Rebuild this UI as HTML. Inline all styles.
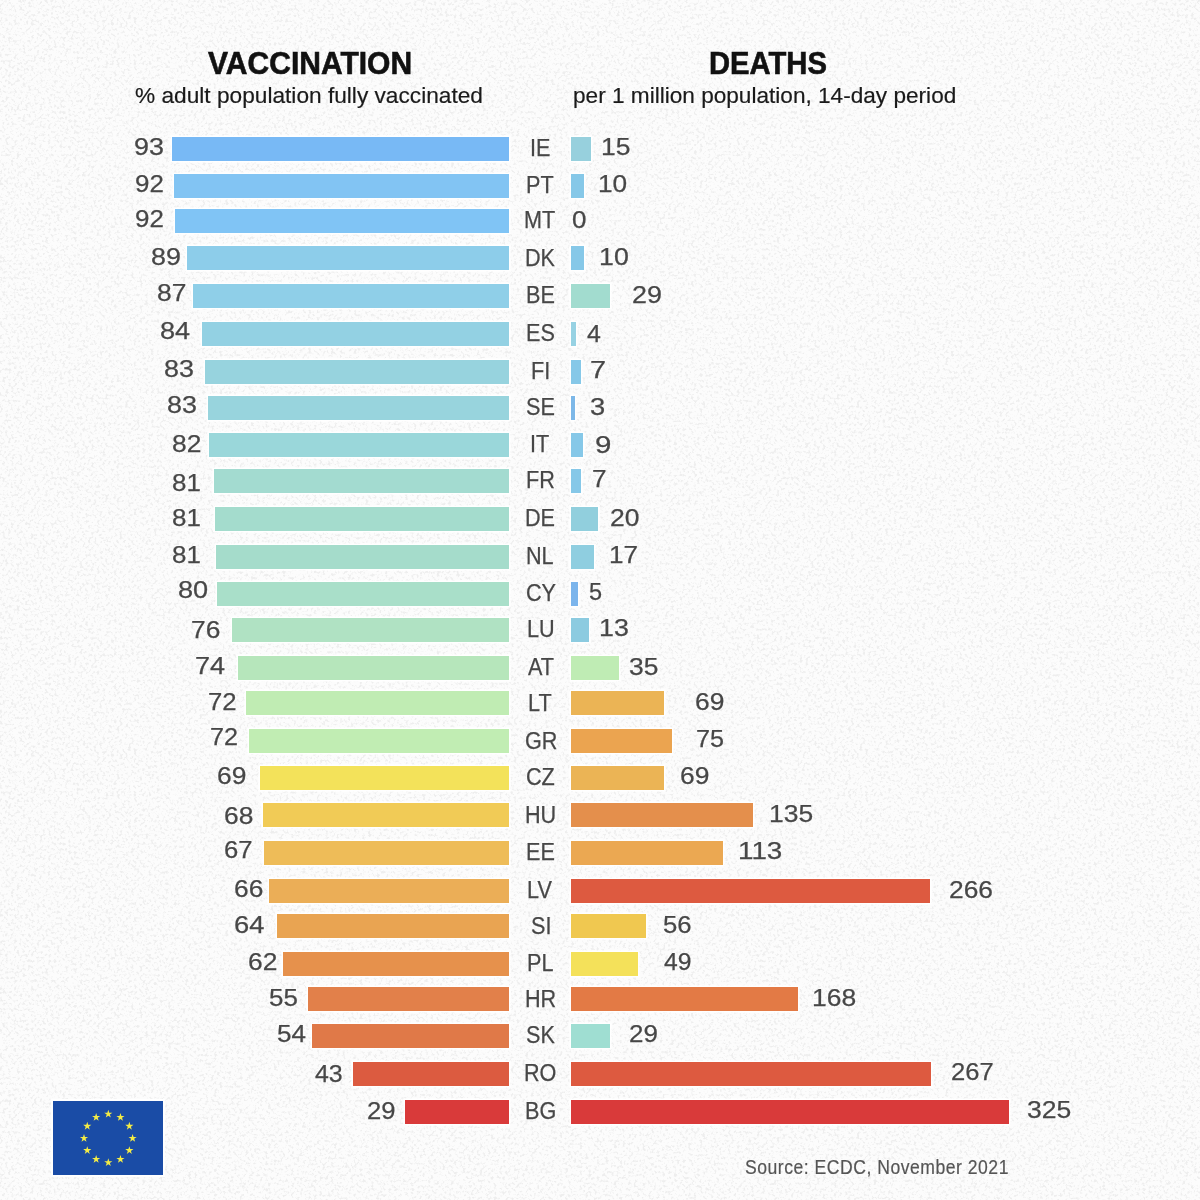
<!DOCTYPE html>
<html><head><meta charset="utf-8"><style>
html,body{margin:0;padding:0}
body{width:1200px;height:1200px;position:relative;overflow:hidden;background:#fcfcfc;font-family:"Liberation Sans",sans-serif}
.b{position:absolute;box-shadow:0 0 0 1.5px #fff}
.t{position:absolute;line-height:1;white-space:nowrap;transform-origin:0 0}
.n{-webkit-text-stroke:0.25px #474747}
.h{-webkit-text-stroke:0.6px #111}
.s{-webkit-text-stroke:0.2px currentColor}
.flag{position:absolute;box-shadow:0 0 0 2px #fff}
</style></head><body>
<svg width="1200" height="1200" style="position:absolute;left:0;top:0"><filter id="n" x="0" y="0" width="100%" height="100%"><feTurbulence type="fractalNoise" baseFrequency="0.35" numOctaves="3" seed="7"/><feColorMatrix type="matrix" values="0 0 0 0 0.86  0 0 0 0 0.86  0 0 0 0 0.86  5 0 0 0 -2.55"/><feGaussianBlur stdDeviation="0.5"/></filter><rect width="1200" height="1200" fill="#fcfcfc"/><rect width="1200" height="1200" filter="url(#n)"/></svg>
<div class="b" style="left:171.80px;top:136.50px;width:337.20px;height:24px;background:#78b9f5"></div><div class="b" style="left:570.7px;top:136.50px;width:20.50px;height:24px;background:#97d0dd"></div><div class="b" style="left:174.30px;top:173.50px;width:334.70px;height:24px;background:#82c4f3"></div><div class="b" style="left:570.7px;top:173.50px;width:13.75px;height:24px;background:#86c8e8"></div><div class="b" style="left:174.80px;top:208.62px;width:334.20px;height:24px;background:#80c4f5"></div><div class="b" style="left:186.80px;top:246.38px;width:322.20px;height:24px;background:#8dcdea"></div><div class="b" style="left:570.7px;top:246.38px;width:13.75px;height:24px;background:#86c8e8"></div><div class="b" style="left:192.80px;top:283.62px;width:316.20px;height:24px;background:#8fcfe8"></div><div class="b" style="left:570.7px;top:283.62px;width:39.50px;height:24px;background:#a2dccf"></div><div class="b" style="left:202.30px;top:321.88px;width:306.70px;height:24px;background:#93d1e3"></div><div class="b" style="left:570.7px;top:321.88px;width:5.75px;height:24px;background:#97d2e3"></div><div class="b" style="left:205.30px;top:359.62px;width:303.70px;height:24px;background:#97d3de"></div><div class="b" style="left:570.7px;top:359.62px;width:10.00px;height:24px;background:#86c8e8"></div><div class="b" style="left:207.80px;top:395.88px;width:301.20px;height:24px;background:#98d4dd"></div><div class="b" style="left:570.7px;top:395.88px;width:4.50px;height:24px;background:#7db8e8"></div><div class="b" style="left:209.30px;top:432.88px;width:299.70px;height:24px;background:#9ad7da"></div><div class="b" style="left:570.7px;top:432.88px;width:12.50px;height:24px;background:#86c8e8"></div><div class="b" style="left:213.55px;top:469.00px;width:295.45px;height:24px;background:#a3dbd0"></div><div class="b" style="left:570.7px;top:469.00px;width:10.00px;height:24px;background:#86c8e8"></div><div class="b" style="left:214.80px;top:506.75px;width:294.20px;height:24px;background:#a4dccd"></div><div class="b" style="left:570.7px;top:506.75px;width:27.00px;height:24px;background:#91cfdd"></div><div class="b" style="left:216.05px;top:544.62px;width:292.95px;height:24px;background:#a5dccb"></div><div class="b" style="left:570.7px;top:544.62px;width:23.25px;height:24px;background:#8fcee0"></div><div class="b" style="left:216.80px;top:581.50px;width:292.20px;height:24px;background:#a9dfc9"></div><div class="b" style="left:570.7px;top:581.50px;width:7.00px;height:24px;background:#7cb5ec"></div><div class="b" style="left:231.80px;top:617.88px;width:277.20px;height:24px;background:#b0e2c3"></div><div class="b" style="left:570.7px;top:617.88px;width:18.75px;height:24px;background:#8ccbe0"></div><div class="b" style="left:237.80px;top:655.88px;width:271.20px;height:24px;background:#b6e6bb"></div><div class="b" style="left:570.7px;top:655.88px;width:48.25px;height:24px;background:#bfecb4"></div><div class="b" style="left:246.05px;top:691.12px;width:262.95px;height:24px;background:#c0ecb3"></div><div class="b" style="left:570.7px;top:691.12px;width:93.25px;height:24px;background:#ebb455"></div><div class="b" style="left:248.55px;top:729.25px;width:260.45px;height:24px;background:#c1edb3"></div><div class="b" style="left:570.7px;top:729.25px;width:101.25px;height:24px;background:#eba450"></div><div class="b" style="left:259.80px;top:765.62px;width:249.20px;height:24px;background:#f3e25a"></div><div class="b" style="left:570.7px;top:765.62px;width:93.25px;height:24px;background:#ebb455"></div><div class="b" style="left:262.80px;top:803.12px;width:246.20px;height:24px;background:#f1cb56"></div><div class="b" style="left:570.7px;top:803.12px;width:182.00px;height:24px;background:#e48f4c"></div><div class="b" style="left:264.30px;top:840.62px;width:244.70px;height:24px;background:#eebc58"></div><div class="b" style="left:570.7px;top:840.62px;width:152.50px;height:24px;background:#eba852"></div><div class="b" style="left:269.05px;top:878.62px;width:239.95px;height:24px;background:#ebae57"></div><div class="b" style="left:570.7px;top:878.62px;width:359.50px;height:24px;background:#dd5a40"></div><div class="b" style="left:276.80px;top:914.38px;width:232.20px;height:24px;background:#e9a452"></div><div class="b" style="left:570.7px;top:914.38px;width:75.25px;height:24px;background:#f0c850"></div><div class="b" style="left:283.05px;top:951.88px;width:225.95px;height:24px;background:#e6914c"></div><div class="b" style="left:570.7px;top:951.88px;width:67.00px;height:24px;background:#f4e15a"></div><div class="b" style="left:308.47px;top:987.15px;width:200.53px;height:24px;background:#e2804a"></div><div class="b" style="left:570.7px;top:987.15px;width:227.00px;height:24px;background:#e37a45"></div><div class="b" style="left:312.47px;top:1023.75px;width:196.53px;height:24px;background:#e07948"></div><div class="b" style="left:570.7px;top:1023.75px;width:39.50px;height:24px;background:#9fded2"></div><div class="b" style="left:353.10px;top:1061.65px;width:155.90px;height:24px;background:#dc5b40"></div><div class="b" style="left:570.7px;top:1061.65px;width:360.25px;height:24px;background:#dd5a40"></div><div class="b" style="left:405.10px;top:1099.55px;width:103.90px;height:24px;background:#d93a3a"></div><div class="b" style="left:570.7px;top:1099.55px;width:438.75px;height:24px;background:#d93a3a"></div>
<div class="t n" style="left:133.50px;top:135.10px;font-size:24.0px;font-weight:normal;color:#474747;letter-spacing:0px;transform:scaleX(1.1200)">93</div><div class="t n" style="left:601.00px;top:135.10px;font-size:24.0px;font-weight:normal;color:#474747;letter-spacing:0px;transform:scaleX(1.1042)">15</div><div class="t n" style="left:529.80px;top:136.95px;font-size:23.5px;font-weight:normal;color:#474747;letter-spacing:0px;transform:scaleX(0.9200)">IE</div><div class="t n" style="left:135.00px;top:172.30px;font-size:24.0px;font-weight:normal;color:#474747;letter-spacing:0px;transform:scaleX(1.0800)">92</div><div class="t n" style="left:598.00px;top:172.35px;font-size:24.0px;font-weight:normal;color:#474747;letter-spacing:0px;transform:scaleX(1.0938)">10</div><div class="t n" style="left:526.30px;top:173.95px;font-size:23.5px;font-weight:normal;color:#474747;letter-spacing:0px;transform:scaleX(0.9200)">PT</div><div class="t n" style="left:135.00px;top:207.30px;font-size:24.0px;font-weight:normal;color:#474747;letter-spacing:0px;transform:scaleX(1.0800)">92</div><div class="t n" style="left:572.25px;top:207.60px;font-size:24.0px;font-weight:normal;color:#474747;letter-spacing:0px;transform:scaleX(1.0833)">0</div><div class="t n" style="left:524.30px;top:209.07px;font-size:23.5px;font-weight:normal;color:#474747;letter-spacing:0px;transform:scaleX(0.9200)">MT</div><div class="t n" style="left:150.50px;top:245.10px;font-size:24.0px;font-weight:normal;color:#474747;letter-spacing:0px;transform:scaleX(1.1200)">89</div><div class="t n" style="left:599.25px;top:244.85px;font-size:24.0px;font-weight:normal;color:#474747;letter-spacing:0px;transform:scaleX(1.1146)">10</div><div class="t n" style="left:525.30px;top:246.82px;font-size:23.5px;font-weight:normal;color:#474747;letter-spacing:0px;transform:scaleX(0.9200)">DK</div><div class="t n" style="left:157.00px;top:281.35px;font-size:24.0px;font-weight:normal;color:#474747;letter-spacing:0px;transform:scaleX(1.1000)">87</div><div class="t n" style="left:631.50px;top:282.60px;font-size:24.0px;font-weight:normal;color:#474747;letter-spacing:0px;transform:scaleX(1.1200)">29</div><div class="t n" style="left:525.80px;top:284.07px;font-size:23.5px;font-weight:normal;color:#474747;letter-spacing:0px;transform:scaleX(0.9200)">BE</div><div class="t n" style="left:159.50px;top:319.10px;font-size:24.0px;font-weight:normal;color:#474747;letter-spacing:0px;transform:scaleX(1.1300)">84</div><div class="t n" style="left:587.00px;top:321.73px;font-size:24.0px;font-weight:normal;color:#474747;letter-spacing:0px;transform:scaleX(1.0385)">4</div><div class="t n" style="left:525.80px;top:322.32px;font-size:23.5px;font-weight:normal;color:#474747;letter-spacing:0px;transform:scaleX(0.9200)">ES</div><div class="t n" style="left:164.00px;top:356.60px;font-size:24.0px;font-weight:normal;color:#474747;letter-spacing:0px;transform:scaleX(1.1200)">83</div><div class="t n" style="left:590.25px;top:358.48px;font-size:24.0px;font-weight:normal;color:#474747;letter-spacing:0px;transform:scaleX(1.2045)">7</div><div class="t n" style="left:530.80px;top:360.07px;font-size:23.5px;font-weight:normal;color:#474747;letter-spacing:0px;transform:scaleX(0.9200)">FI</div><div class="t n" style="left:167.00px;top:392.85px;font-size:24.0px;font-weight:normal;color:#474747;letter-spacing:0px;transform:scaleX(1.1200)">83</div><div class="t n" style="left:589.50px;top:394.85px;font-size:24.0px;font-weight:normal;color:#474747;letter-spacing:0px;transform:scaleX(1.1364)">3</div><div class="t n" style="left:526.30px;top:396.32px;font-size:23.5px;font-weight:normal;color:#474747;letter-spacing:0px;transform:scaleX(0.9200)">SE</div><div class="t n" style="left:172.00px;top:431.60px;font-size:24.0px;font-weight:normal;color:#474747;letter-spacing:0px;transform:scaleX(1.1000)">82</div><div class="t n" style="left:595.00px;top:432.60px;font-size:24.0px;font-weight:normal;color:#474747;letter-spacing:0px;transform:scaleX(1.2273)">9</div><div class="t n" style="left:530.30px;top:433.32px;font-size:23.5px;font-weight:normal;color:#474747;letter-spacing:0px;transform:scaleX(0.9200)">IT</div><div class="t n" style="left:172.00px;top:470.73px;font-size:24.0px;font-weight:normal;color:#474747;letter-spacing:0px;transform:scaleX(1.0800)">81</div><div class="t n" style="left:592.00px;top:467.23px;font-size:24.0px;font-weight:normal;color:#474747;letter-spacing:0px;transform:scaleX(1.0909)">7</div><div class="t n" style="left:525.80px;top:469.45px;font-size:23.5px;font-weight:normal;color:#474747;letter-spacing:0px;transform:scaleX(0.9200)">FR</div><div class="t n" style="left:172.00px;top:505.60px;font-size:24.0px;font-weight:normal;color:#474747;letter-spacing:0px;transform:scaleX(1.0800)">81</div><div class="t n" style="left:610.30px;top:505.60px;font-size:24.0px;font-weight:normal;color:#474747;letter-spacing:0px;transform:scaleX(1.1040)">20</div><div class="t n" style="left:525.30px;top:507.20px;font-size:23.5px;font-weight:normal;color:#474747;letter-spacing:0px;transform:scaleX(0.9200)">DE</div><div class="t n" style="left:172.00px;top:543.23px;font-size:24.0px;font-weight:normal;color:#474747;letter-spacing:0px;transform:scaleX(1.0800)">81</div><div class="t n" style="left:608.90px;top:543.30px;font-size:24.0px;font-weight:normal;color:#474747;letter-spacing:0px;transform:scaleX(1.0875)">17</div><div class="t n" style="left:526.30px;top:545.08px;font-size:23.5px;font-weight:normal;color:#474747;letter-spacing:0px;transform:scaleX(0.9200)">NL</div><div class="t n" style="left:177.75px;top:578.23px;font-size:24.0px;font-weight:normal;color:#474747;letter-spacing:0px;transform:scaleX(1.1300)">80</div><div class="t n" style="left:588.50px;top:580.10px;font-size:24.0px;font-weight:normal;color:#474747;letter-spacing:0px;transform:scaleX(0.9792)">5</div><div class="t n" style="left:525.80px;top:581.95px;font-size:23.5px;font-weight:normal;color:#474747;letter-spacing:0px;transform:scaleX(0.9200)">CY</div><div class="t n" style="left:191.00px;top:618.23px;font-size:24.0px;font-weight:normal;color:#474747;letter-spacing:0px;transform:scaleX(1.1000)">76</div><div class="t n" style="left:598.75px;top:615.73px;font-size:24.0px;font-weight:normal;color:#474747;letter-spacing:0px;transform:scaleX(1.1146)">13</div><div class="t n" style="left:526.80px;top:618.33px;font-size:23.5px;font-weight:normal;color:#474747;letter-spacing:0px;transform:scaleX(0.9200)">LU</div><div class="t n" style="left:194.50px;top:654.48px;font-size:24.0px;font-weight:normal;color:#474747;letter-spacing:0px;transform:scaleX(1.1300)">74</div><div class="t n" style="left:629.00px;top:654.60px;font-size:24.0px;font-weight:normal;color:#474747;letter-spacing:0px;transform:scaleX(1.1000)">35</div><div class="t n" style="left:527.80px;top:656.33px;font-size:23.5px;font-weight:normal;color:#474747;letter-spacing:0px;transform:scaleX(0.9200)">AT</div><div class="t n" style="left:207.75px;top:690.10px;font-size:24.0px;font-weight:normal;color:#474747;letter-spacing:0px;transform:scaleX(1.0700)">72</div><div class="t n" style="left:695.25px;top:689.85px;font-size:24.0px;font-weight:normal;color:#474747;letter-spacing:0px;transform:scaleX(1.1000)">69</div><div class="t n" style="left:528.30px;top:691.58px;font-size:23.5px;font-weight:normal;color:#474747;letter-spacing:0px;transform:scaleX(0.9200)">LT</div><div class="t n" style="left:210.25px;top:725.10px;font-size:24.0px;font-weight:normal;color:#474747;letter-spacing:0px;transform:scaleX(1.0500)">72</div><div class="t n" style="left:696.00px;top:727.35px;font-size:24.0px;font-weight:normal;color:#474747;letter-spacing:0px;transform:scaleX(1.0500)">75</div><div class="t n" style="left:524.80px;top:729.70px;font-size:23.5px;font-weight:normal;color:#474747;letter-spacing:0px;transform:scaleX(0.9200)">GR</div><div class="t n" style="left:217.00px;top:764.48px;font-size:24.0px;font-weight:normal;color:#474747;letter-spacing:0px;transform:scaleX(1.1000)">69</div><div class="t n" style="left:679.50px;top:764.23px;font-size:24.0px;font-weight:normal;color:#474747;letter-spacing:0px;transform:scaleX(1.1000)">69</div><div class="t n" style="left:526.30px;top:766.08px;font-size:23.5px;font-weight:normal;color:#474747;letter-spacing:0px;transform:scaleX(0.9200)">CZ</div><div class="t n" style="left:223.50px;top:803.85px;font-size:24.0px;font-weight:normal;color:#474747;letter-spacing:0px;transform:scaleX(1.1000)">68</div><div class="t n" style="left:769.25px;top:801.73px;font-size:24.0px;font-weight:normal;color:#474747;letter-spacing:0px;transform:scaleX(1.1014)">135</div><div class="t n" style="left:524.80px;top:803.58px;font-size:23.5px;font-weight:normal;color:#474747;letter-spacing:0px;transform:scaleX(0.9200)">HU</div><div class="t n" style="left:223.50px;top:837.60px;font-size:24.0px;font-weight:normal;color:#474747;letter-spacing:0px;transform:scaleX(1.0700)">67</div><div class="t n" style="left:738.00px;top:839.23px;font-size:24.0px;font-weight:normal;color:#474747;letter-spacing:0px;transform:scaleX(1.1571)">113</div><div class="t n" style="left:525.80px;top:841.08px;font-size:23.5px;font-weight:normal;color:#474747;letter-spacing:0px;transform:scaleX(0.9200)">EE</div><div class="t n" style="left:233.50px;top:876.98px;font-size:24.0px;font-weight:normal;color:#474747;letter-spacing:0px;transform:scaleX(1.1000)">66</div><div class="t n" style="left:948.50px;top:877.60px;font-size:24.0px;font-weight:normal;color:#474747;letter-spacing:0px;transform:scaleX(1.0987)">266</div><div class="t n" style="left:527.30px;top:879.08px;font-size:23.5px;font-weight:normal;color:#474747;letter-spacing:0px;transform:scaleX(0.9200)">LV</div><div class="t n" style="left:233.50px;top:913.23px;font-size:24.0px;font-weight:normal;color:#474747;letter-spacing:0px;transform:scaleX(1.1400)">64</div><div class="t n" style="left:662.75px;top:912.60px;font-size:24.0px;font-weight:normal;color:#474747;letter-spacing:0px;transform:scaleX(1.0700)">56</div><div class="t n" style="left:530.80px;top:914.83px;font-size:23.5px;font-weight:normal;color:#474747;letter-spacing:0px;transform:scaleX(0.9200)">SI</div><div class="t n" style="left:247.75px;top:950.23px;font-size:24.0px;font-weight:normal;color:#474747;letter-spacing:0px;transform:scaleX(1.1000)">62</div><div class="t n" style="left:663.75px;top:949.85px;font-size:24.0px;font-weight:normal;color:#474747;letter-spacing:0px;transform:scaleX(1.0288)">49</div><div class="t n" style="left:526.80px;top:952.33px;font-size:23.5px;font-weight:normal;color:#474747;letter-spacing:0px;transform:scaleX(0.9200)">PL</div><div class="t n" style="left:268.67px;top:985.50px;font-size:24.0px;font-weight:normal;color:#474747;letter-spacing:0px;transform:scaleX(1.0800)">55</div><div class="t n" style="left:812.25px;top:985.73px;font-size:24.0px;font-weight:normal;color:#474747;letter-spacing:0px;transform:scaleX(1.1014)">168</div><div class="t n" style="left:524.80px;top:987.60px;font-size:23.5px;font-weight:normal;color:#474747;letter-spacing:0px;transform:scaleX(0.9200)">HR</div><div class="t n" style="left:276.50px;top:1022.18px;font-size:24.0px;font-weight:normal;color:#474747;letter-spacing:0px;transform:scaleX(1.0868)">54</div><div class="t n" style="left:629.00px;top:1022.18px;font-size:24.0px;font-weight:normal;color:#474747;letter-spacing:0px;transform:scaleX(1.0800)">29</div><div class="t n" style="left:526.30px;top:1024.20px;font-size:23.5px;font-weight:normal;color:#474747;letter-spacing:0px;transform:scaleX(0.9200)">SK</div><div class="t n" style="left:314.67px;top:1062.18px;font-size:24.0px;font-weight:normal;color:#474747;letter-spacing:0px;transform:scaleX(1.0385)">43</div><div class="t n" style="left:951.00px;top:1060.47px;font-size:24.0px;font-weight:normal;color:#474747;letter-spacing:0px;transform:scaleX(1.0658)">267</div><div class="t n" style="left:524.30px;top:1062.10px;font-size:23.5px;font-weight:normal;color:#474747;letter-spacing:0px;transform:scaleX(0.9200)">RO</div><div class="t n" style="left:367.00px;top:1099.43px;font-size:24.0px;font-weight:normal;color:#474747;letter-spacing:0px;transform:scaleX(1.0668)">29</div><div class="t n" style="left:1026.50px;top:1098.22px;font-size:24.0px;font-weight:normal;color:#474747;letter-spacing:0px;transform:scaleX(1.1053)">325</div><div class="t n" style="left:524.80px;top:1100.00px;font-size:23.5px;font-weight:normal;color:#474747;letter-spacing:0px;transform:scaleX(0.9200)">BG</div><div class="t h" style="left:207.50px;top:48.20px;font-size:31.0px;font-weight:bold;color:#111;letter-spacing:0px;transform:scaleX(0.9689)">VACCINATION</div><div class="t h" style="left:708.80px;top:48.20px;font-size:31.0px;font-weight:bold;color:#111;letter-spacing:0px;transform:scaleX(0.9426)">DEATHS</div><div class="t s" style="left:135.30px;top:84.80px;font-size:22.5px;font-weight:normal;color:#1a1a1a;letter-spacing:0px;transform:scaleX(1.0079)">&#37; adult population fully vaccinated</div><div class="t s" style="left:573.20px;top:84.80px;font-size:22.5px;font-weight:normal;color:#1a1a1a;letter-spacing:0px;transform:scaleX(1.0047)">per 1 million population, 14-day period</div><div class="t s" style="left:744.70px;top:1157.20px;font-size:20.5px;font-weight:normal;color:#555;letter-spacing:0.6px;transform:scaleX(0.8572)">Source: ECDC, November 2021</div>
<svg class="flag" width="110" height="74" viewBox="0 0 110 74" style="left:53px;top:1101px"><rect width="110" height="74" fill="#1a4ca6"/><g fill="#f4ec46"><polygon points="55.30,8.70 56.27,11.67 59.39,11.67 56.86,13.51 57.83,16.48 55.30,14.64 52.77,16.48 53.74,13.51 51.21,11.67 54.33,11.67"/><polygon points="67.45,11.96 68.42,14.93 71.54,14.93 69.01,16.76 69.98,19.73 67.45,17.90 64.92,19.73 65.89,16.76 63.36,14.93 66.48,14.93"/><polygon points="76.34,20.85 77.31,23.82 80.43,23.82 77.91,25.66 78.87,28.63 76.34,26.79 73.82,28.63 74.78,25.66 72.25,23.82 75.38,23.82"/><polygon points="79.60,33.00 80.57,35.97 83.69,35.97 81.16,37.81 82.13,40.78 79.60,38.94 77.07,40.78 78.04,37.81 75.51,35.97 78.63,35.97"/><polygon points="76.34,45.15 77.31,48.12 80.43,48.12 77.91,49.96 78.87,52.93 76.34,51.09 73.82,52.93 74.78,49.96 72.25,48.12 75.38,48.12"/><polygon points="67.45,54.04 68.42,57.02 71.54,57.02 69.01,58.85 69.98,61.82 67.45,59.99 64.92,61.82 65.89,58.85 63.36,57.02 66.48,57.02"/><polygon points="55.30,57.30 56.27,60.27 59.39,60.27 56.86,62.11 57.83,65.08 55.30,63.24 52.77,65.08 53.74,62.11 51.21,60.27 54.33,60.27"/><polygon points="43.15,54.04 44.12,57.02 47.24,57.02 44.71,58.85 45.68,61.82 43.15,59.99 40.62,61.82 41.59,58.85 39.06,57.02 42.18,57.02"/><polygon points="34.26,45.15 35.22,48.12 38.35,48.12 35.82,49.96 36.78,52.93 34.26,51.09 31.73,52.93 32.69,49.96 30.17,48.12 33.29,48.12"/><polygon points="31.00,33.00 31.97,35.97 35.09,35.97 32.56,37.81 33.53,40.78 31.00,38.94 28.47,40.78 29.44,37.81 26.91,35.97 30.03,35.97"/><polygon points="34.26,20.85 35.22,23.82 38.35,23.82 35.82,25.66 36.78,28.63 34.26,26.79 31.73,28.63 32.69,25.66 30.17,23.82 33.29,23.82"/><polygon points="43.15,11.96 44.12,14.93 47.24,14.93 44.71,16.76 45.68,19.73 43.15,17.90 40.62,19.73 41.59,16.76 39.06,14.93 42.18,14.93"/></g></svg>
</body></html>
